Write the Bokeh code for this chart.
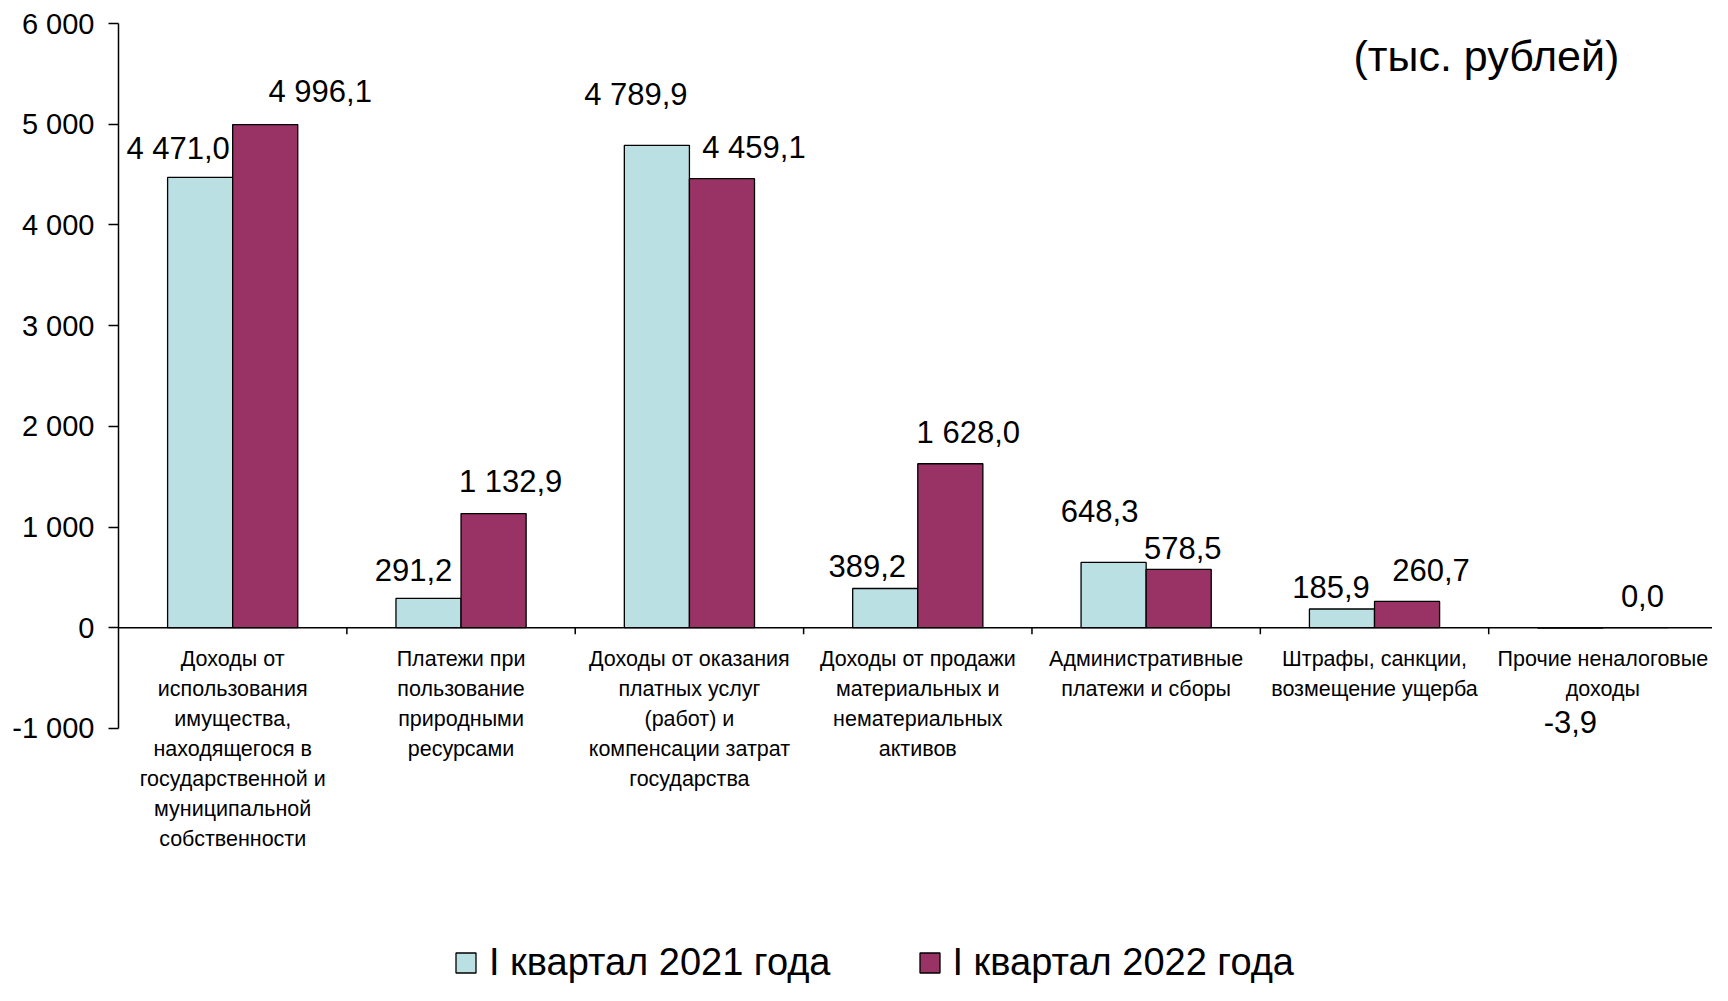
from bokeh.plotting import figure
from bokeh.models import Range1d, FixedTicker, Span, Legend, LegendItem, Label, ColumnDataSource
from bokeh.core.properties import value
from bokeh.embed import file_html
from bokeh.resources import INLINE

categories = [
    "Доходы от\nиспользования\nимущества,\nнаходящегося в\nгосударственной и\nмуниципальной\nсобственности",
    "Платежи при\nпользование\nприродными\nресурсами",
    "Доходы от оказания\nплатных услуг\n(работ) и\nкомпенсации затрат\nгосударства",
    "Доходы от продажи\nматериальных и\nнематериальных\nактивов",
    "Административные\nплатежи и сборы",
    "Штрафы, санкции,\nвозмещение ущерба",
    "Прочие неналоговые\nдоходы",
]
q1_2021 = [4471.0, 291.2, 4789.9, 389.2, 648.3, 185.9, -3.9]
q1_2022 = [4996.1, 1132.9, 4459.1, 1628.0, 578.5, 260.7, 0.0]
series_names = ["I квартал 2021 года", "I квартал 2022 года"]
y_ticks = [-1000, 0, 1000, 2000, 3000, 4000, 5000, 6000]
unit_note = "(тыс. рублей)"

# label nudges (screen px) as placed in the original
nudge_x_2021 = [-22, -15, -21, -18, -14, -11, 0]
nudge_y_2021 = [-29, -28, -51, -23, -51, -22, 94]
nudge_x_2022 = [55, 17, 32, 18, 4, 24, 7]
nudge_y_2022 = [-33, -32, -31, -31, -21, -31, -32]

FONT = "Liberation Sans"
C1 = "#BBE0E3"
C2 = "#993366"


def fmt(v):
    s = f"{abs(v):,.1f}".replace(",", " ").replace(".", ",")
    return ("-" if v < 0 else "") + s


def fmt_int(v):
    s = f"{abs(v):,d}".replace(",", " ")
    return ("-" if v < 0 else "") + s


px_per_unit = 0.1007
top_border = 23
fig_h = 985
frame_h = fig_h - top_border
y_top = 6000
y_bottom = y_top - frame_h / px_per_unit

p = figure(width=1712, height=fig_h, output_backend="svg", toolbar_location=None,
           x_range=Range1d(0, 6.98), y_range=Range1d(y_bottom, y_top),
           min_border_left=118, min_border_right=0, min_border_top=top_border,
           min_border_bottom=0, x_axis_location=None)
p.outline_line_color = None
p.xgrid.visible = False
p.ygrid.visible = False
p.background_fill_color = "white"
p.border_fill_color = "white"

ya = p.yaxis[0]
ya.ticker = FixedTicker(ticks=y_ticks)
ya.major_label_overrides = {float(t): fmt_int(t) for t in y_ticks}
ya.bounds = (min(y_ticks), max(y_ticks))
ya.axis_line_color = "black"
ya.axis_line_width = 1.5
ya.major_tick_line_color = "black"
ya.major_tick_line_width = 1.5
ya.major_tick_out = 10
ya.major_tick_in = 0
ya.minor_tick_line_color = None
ya.major_label_standoff = 14
ya.major_label_text_font = FONT
ya.major_label_text_font_size = "29px"
ya.major_label_text_color = "black"

n = len(categories)
centers = [i + 0.5 for i in range(n)]
bw = 0.285
x1 = [c - bw / 2 for c in centers]
x2 = [c + bw / 2 for c in centers]

# zero line and category separators
p.add_layout(Span(location=0, dimension="width", line_color="black", line_width=1.5))
seps = [float(i) for i in range(1, n)]
p.segment(x0=seps, x1=seps, y0=[0] * len(seps), y1=[-65] * len(seps),
          line_color="black", line_width=1.5)

r1 = p.vbar(x=x1, top=q1_2021, bottom=0, width=bw, fill_color=C1,
            line_color="black", line_width=1.3)
r2 = p.vbar(x=x2, top=q1_2022, bottom=0, width=bw, fill_color=C2,
            line_color="black", line_width=1.3)

for xs, vals, nx, ny in [(x1, q1_2021, nudge_x_2021, nudge_y_2021),
                         (x2, q1_2022, nudge_x_2022, nudge_y_2022)]:
    src = ColumnDataSource(dict(x=xs, y=vals, text=[fmt(v) for v in vals], xo=nx, yo=ny))
    p.text(x="x", y="y", text="text", x_offset="xo", y_offset="yo", source=src,
           text_align="center", text_baseline="middle",
           text_font=value(FONT), text_font_size="31px", text_color="black")

p.text(x=centers, y=[0] * n, text=categories, text_align="center", text_baseline="top",
       y_offset=19, text_font=value(FONT), text_font_size="21.5px", text_line_height=1.25,
       text_color="black")

p.add_layout(Label(x=5.99, y=5680, text=unit_note, text_align="center",
                   text_baseline="middle", text_font=FONT, text_font_size="43px",
                   text_color="black"))

legend = Legend(items=[LegendItem(label=series_names[0], renderers=[r1]),
                       LegendItem(label=series_names[1], renderers=[r2])],
                orientation="horizontal", location=(335, 1),
                glyph_width=25, glyph_height=25, label_standoff=11, spacing=86,
                padding=0, margin=0, border_line_color=None, background_fill_alpha=0,
                label_text_font=FONT, label_text_font_size="38px", label_text_color="black")
p.add_layout(legend, "center")

open("out.html", "w").write(file_html(p, INLINE))
